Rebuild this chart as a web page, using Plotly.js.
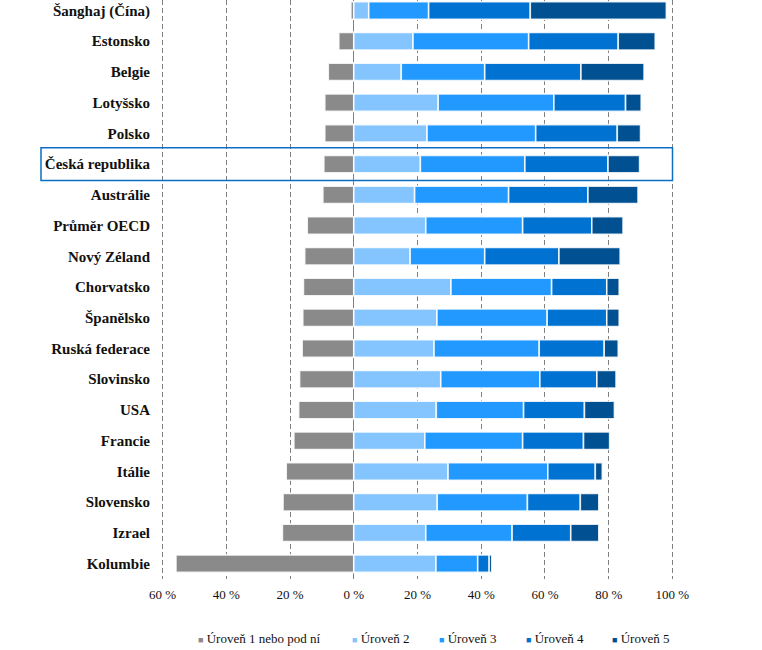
<!DOCTYPE html>
<html>
<head>
<meta charset="utf-8">
<script src="https://cdn.plot.ly/plotly-3.0.1.min.js"></script>
<style>html,body{margin:0;padding:0;background:#fff}#chart{width:762px;height:650px}</style>
</head>
<body>
<div id="chart"></div>
<script>
const countries = ["Šanghaj (Čína)","Estonsko","Belgie","Lotyšsko","Polsko","Česká republika","Austrálie","Průměr OECD","Nový Zéland","Chorvatsko","Španělsko","Ruská federace","Slovinsko","USA","Francie","Itálie","Slovensko","Izrael","Kolumbie"];
const level1 = [0.9, 4.7, 8.0, 9.1, 9.1, 9.4, 9.7, 14.6, 15.4, 15.8, 16.0, 16.2, 17.0, 17.3, 18.8, 21.2, 22.2, 22.4, 55.8];
const level2 = [4.7, 18.6, 14.9, 26.5, 23.0, 20.9, 19.1, 22.6, 17.7, 30.5, 26.1, 25.2, 27.3, 25.9, 22.3, 29.6, 26.2, 22.6, 25.8];
const level3 = [18.8, 36.3, 26.2, 36.3, 34.1, 32.8, 29.5, 30.4, 23.4, 31.6, 34.6, 33.0, 31.1, 27.4, 30.7, 31.3, 28.3, 27.1, 13.1];
const level4 = [31.9, 28.1, 30.2, 22.5, 25.6, 26.1, 24.9, 21.7, 23.3, 17.3, 18.7, 20.4, 17.9, 19.1, 19.1, 14.9, 16.6, 18.4, 3.6];
const level5 = [42.7, 11.6, 19.8, 4.9, 7.3, 9.9, 15.7, 9.8, 19.2, 3.9, 3.9, 4.4, 6.0, 9.4, 8.2, 2.2, 5.8, 8.8, 0.8];
const seriesNames = ["Úroveň 1 nebo pod ní","Úroveň 2","Úroveň 3","Úroveň 4","Úroveň 5"];
const colors = ["#8a8a8b","#85c5ff","#2299ff","#0072d2","#005092"];
const tickVals = [-60,-40,-20,0,20,40,60,80,100];
const tickText = ["60 %","40 %","20 %","0 %","20 %","40 %","60 %","80 %","100 %"];
const highlight = "Česká republika";

const font = "Liberation Serif";
const seriesData = [level1.map(v => -v), level2, level3, level4, level5];
const traces = seriesData.map((vals, i) => ({
  type: 'bar', orientation: 'h', name: seriesNames[i],
  y: countries, x: vals,
  marker: {color: colors[i], line: {color: 'rgba(255,255,255,0.85)', width: 1.6}},
  hoverinfo: 'x+y+name', showlegend: false
}));

const L = 161, R = 88, W = 762, T = 0, B = 71, H = 650;
const pw = W - L - R;
const px2paper = p => (p - L) / pw;
const legendX = [196, 350, 437, 524, 610];
const annotations = seriesNames.map((n, i) => ({
  xref: 'paper', yref: 'paper', x: px2paper(legendX[i]), y: -0.102,
  xanchor: 'left', yanchor: 'middle', showarrow: false,
  text: '<span style="color:' + colors[i] + ';font-size:9px">■</span> ' + n,
  font: {family: font, size: 13, color: '#111'}
}));

const hi = countries.indexOf(highlight);
const layout = {
  width: W, height: H,
  margin: {l: L, r: R, t: T, b: B},
  barmode: 'relative', bargap: 0.43,
  paper_bgcolor: '#fff', plot_bgcolor: '#fff',
  font: {family: font, color: '#111'},
  xaxis: {
    range: [-60.5, 100.5], tickvals: tickVals, ticktext: tickText,
    showgrid: true, gridcolor: '#808080', gridwidth: 1, griddash: '5px,3px',
    zeroline: true, zerolinecolor: '#808080', zerolinewidth: 1.2,
    showline: false, ticks: '', tickfont: {family: font, size: 13, color: '#111'},
    ticklabelstandoff: 6, fixedrange: true
  },
  yaxis: {
    type: 'category', categoryorder: 'array', categoryarray: countries,
    range: [18.5, -0.34], showgrid: false, zeroline: false, showline: false, ticks: '',
    tickfont: {family: font, size: 15, color: '#111', weight: 'bold'},
    ticklabelstandoff: 10, fixedrange: true
  },
  shapes: [{
    type: 'rect', xref: 'paper', yref: 'y',
    x0: px2paper(41), x1: px2paper(672.5), y0: hi - 0.53, y1: hi + 0.53,
    line: {color: '#0a6fc2', width: 1.5}, fillcolor: 'rgba(0,0,0,0)', layer: 'above'
  }],
  annotations: annotations
};
Plotly.newPlot('chart', traces, layout, {displayModeBar: false, staticPlot: true});
</script>
</body>
</html>
